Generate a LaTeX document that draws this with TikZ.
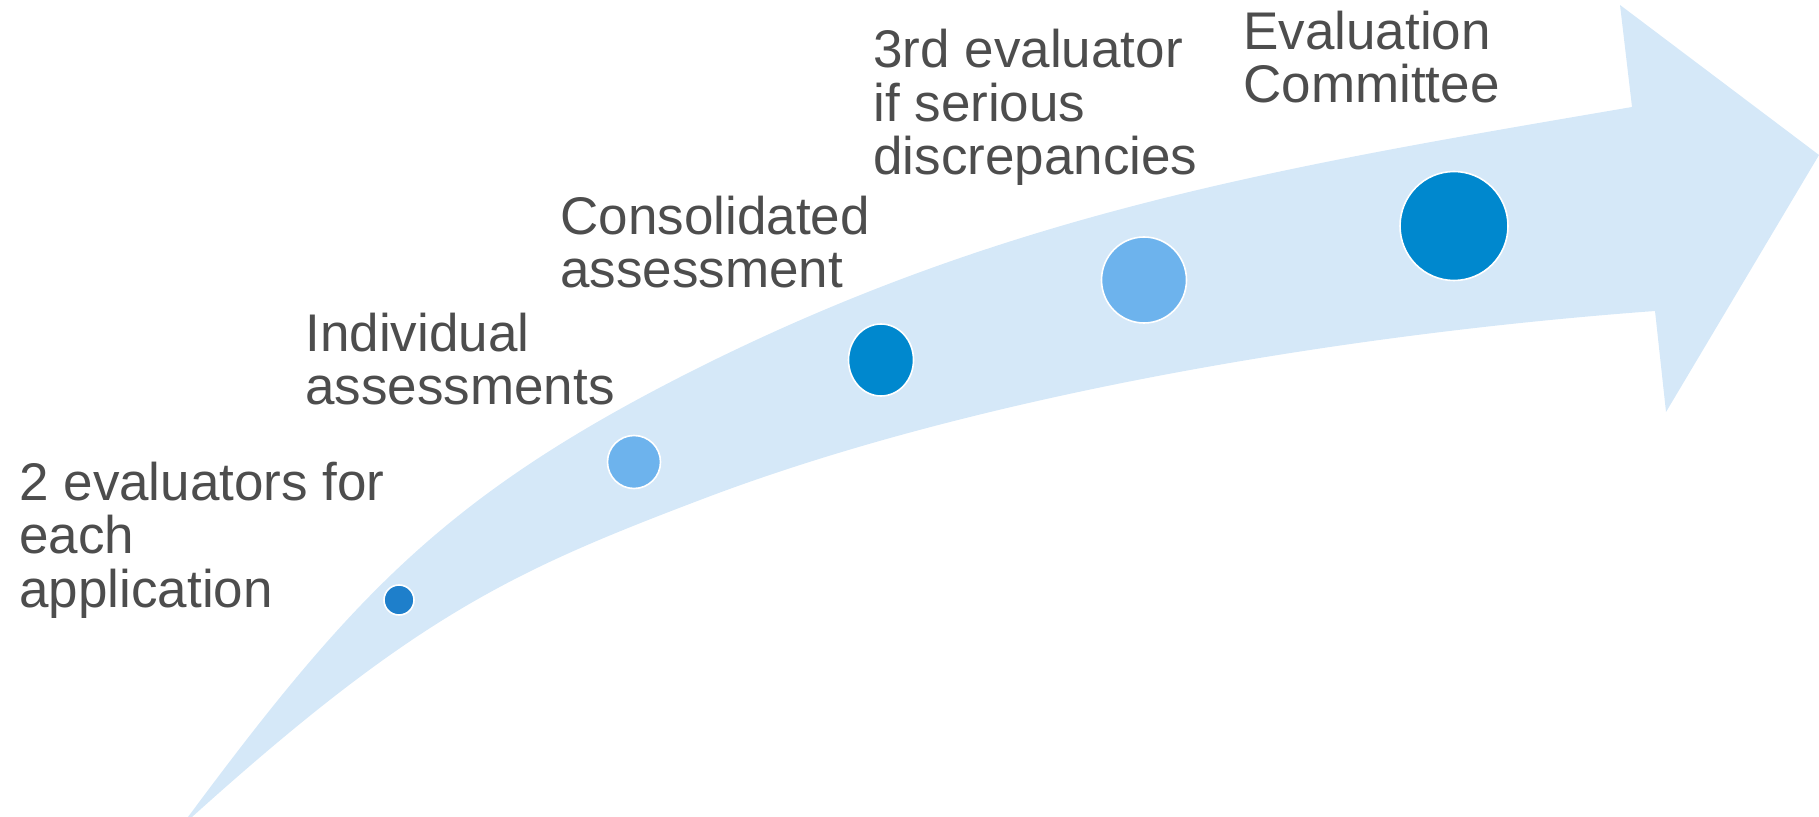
\documentclass[tikz,border=0pt]{standalone}
\usepackage{fontspec}
\setmainfont{Liberation Sans}
\usetikzlibrary{shapes.geometric}
\definecolor{setafundo}{HTML}{D5E8F8}
\definecolor{azulclaro}{HTML}{6DB3ED}
\definecolor{azulforte}{HTML}{0088CE}
\definecolor{azulmedio}{HTML}{1E7FCB}
\definecolor{cinzatexto}{HTML}{4D4D4D}
\begin{document}
\begin{tikzpicture}[x=0.5pt, y=-0.5pt]
\tikzstyle{etapa}=[ellipse, draw=white, line width=0.8pt, inner sep=0]
\tikzstyle{rotulo}=[anchor=base west, align=left, inner sep=0, text=cinzatexto, font=\fontsize{26.5}{26.75}\selectfont]
\useasboundingbox (0,0) rectangle (1819,817);
% seta curva
\fill[setafundo] (188,817) .. controls (355,592) and (450,492) .. (700,367)
  .. controls (1013,211) and (1287,166) .. (1632,107)
  -- (1620,5) -- (1819,155) -- (1666,412) -- (1655,311)
  .. controls (1356,333) and (980,393) .. (700,500)
  .. controls (513,571) and (415,616) .. (192,817) -- cycle;
% etapas
\foreach \x/\y/\w/\h/\cor [count=\i] in {399/600/30/30/azulmedio, 634/462/53/53/azulclaro, 881/360/65/72/azulforte, 1144/280/85/86/azulclaro, 1454/226/108/109/azulforte}
\node[etapa, fill=\cor, minimum width=\w*0.5pt, minimum height=\h*0.5pt] (e\i) at (\x,\y) {};
% textos (ancorados na ultima linha)
\foreach \x/\y/\t [count=\i] in {19/607/{2 evaluators for\\each\\application}, 305/405/{Individual\\assessments}, 560/288/{Consolidated\\assessment}, 873/175/{3rd evaluator\\if serious\\discrepancies}, 1243/103/{Evaluation\\Committee}}
\node[rotulo] (t\i) at (\x,\y) {\t};
\end{tikzpicture}
\end{document}
